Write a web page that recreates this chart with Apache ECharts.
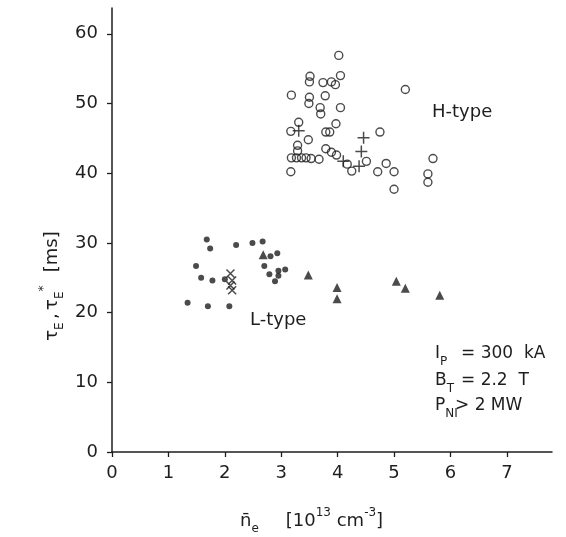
<!DOCTYPE html>
<html>
<head>
<meta charset="utf-8">
<script src="https://cdn.jsdelivr.net/npm/echarts@6/dist/echarts.min.js"></script>
<style>
html, body { margin: 0; padding: 0; background: #fff; }
#chart { width: 566px; height: 537px; }
</style>
</head>
<body>
<div id="chart"></div>
<script>
// H-type shots: open circles and "+" marks  [n_e, tau]
const hTypeCircles = [
  [4.02, 56.9], [3.51, 53.9], [3.50, 53.1], [3.74, 53.0], [3.89, 53.1], [3.96, 52.7], [4.05, 54.0], [5.20, 52.0],
  [3.18, 51.2], [3.50, 50.9], [3.49, 50.0], [3.78, 51.1], [3.69, 49.4], [3.70, 48.5], [4.05, 49.4],
  [3.31, 47.3], [3.17, 46.0], [3.97, 47.1], [3.79, 45.9], [3.86, 45.9], [3.48, 44.8], [4.75, 45.9],
  [3.29, 44.0], [3.29, 43.2], [3.18, 42.2], [3.27, 42.2], [3.36, 42.2], [3.44, 42.2], [3.53, 42.1], [3.67, 42.0],
  [3.79, 43.5], [3.89, 43.0], [3.98, 42.6], [4.17, 41.3], [4.25, 40.3], [4.51, 41.7], [4.71, 40.2], [4.86, 41.4],
  [5.00, 40.2], [5.00, 37.7], [5.69, 42.1], [5.60, 39.9], [5.60, 38.7], [3.17, 40.2]
];
const hTypePlus = [[3.31, 46.1], [4.46, 45.1], [4.42, 43.1], [4.38, 41.0], [4.10, 41.7]];

// L-type shots: dots, "x" marks, triangles
const lTypeDots = [
  [1.68, 30.5], [1.74, 29.2], [2.20, 29.7], [1.49, 26.7], [1.58, 25.0], [1.78, 24.6], [2.00, 24.8],
  [1.34, 21.4], [1.70, 20.9], [2.08, 20.9], [2.49, 30.0], [2.67, 30.2], [2.81, 28.1], [2.93, 28.5],
  [2.70, 26.7], [2.79, 25.5], [2.95, 26.0], [3.07, 26.2], [2.95, 25.3], [2.89, 24.5]
];
const lTypeCross = [[2.10, 25.6], [2.13, 24.6], [2.10, 23.9], [2.13, 23.2]];
const lTypeTriangles = [[2.68, 28.3], [3.48, 25.4], [3.99, 23.6], [3.99, 22.0], [5.04, 24.5], [5.20, 23.5], [5.81, 22.5]];

// tick positions
const xTicks = [0, 1, 2, 3, 4, 5, 6, 7];
const yTicks = [0, 10, 20, 30, 40, 50, 60];

const ink = '#1e1e1e';
const font = 'DejaVu Sans';

// rich styles for sub/superscripts
const rich = {
  m: { fontSize: 18, fontFamily: font, fill: ink, lineHeight: 28 },
  a: { fontSize: 17, fontFamily: font, fill: ink, lineHeight: 28 },
  s: { fontSize: 12, fontFamily: font, fill: ink, lineHeight: 12, verticalAlign: 'bottom' },
  p: { fontSize: 12, fontFamily: font, fill: ink, lineHeight: 12, verticalAlign: 'top' }
};

function label(x, y, text, opts) {
  return Object.assign({
    type: 'text', x: x, y: y, silent: true,
    style: { text: text, rich: rich, fill: ink, font: '17px ' + font, align: 'left', verticalAlign: 'middle' }
  }, opts || {});
}

const yTitle = '{m|τ}{s|E} {m|,} {m|τ}{s|E}{p|*}    {m|[ms]}';

const chart = echarts.init(document.getElementById('chart'), null, { renderer: 'canvas' });

chart.setOption({
  backgroundColor: '#fff',
  animation: false,
  grid: { left: 112, right: 14, top: 8, bottom: 85 },
  xAxis: {
    type: 'value', min: 0, max: 7.8,
    axisLine: { onZero: false, lineStyle: { color: ink, width: 1.5 } },
    axisTick: { length: 5, customValues: xTicks, lineStyle: { color: ink, width: 1.3 } },
    axisLabel: { margin: 12, color: ink, fontSize: 18, fontFamily: font, customValues: xTicks },
    splitLine: { show: false }
  },
  yAxis: {
    type: 'value', min: 0, max: 63.7,
    axisLine: { show: true, onZero: false, lineStyle: { color: ink, width: 1.5 } },
    axisTick: { show: true, length: 5, customValues: yTicks, lineStyle: { color: ink, width: 1.3 } },
    axisLabel: { margin: 14, color: ink, fontSize: 18, fontFamily: font, customValues: yTicks },
    splitLine: { show: false }
  },
  series: [
    {
      name: 'H circles', type: 'scatter', data: hTypeCircles,
      symbol: 'circle', symbolSize: 8,
      itemStyle: { color: 'rgba(0,0,0,0)', borderColor: ink, borderWidth: 1.4 }
    },
    {
      name: 'H plus', type: 'scatter', data: hTypePlus,
      symbol: 'path://M0,5L10,5M5,0L5,10', symbolSize: 12,
      itemStyle: { color: 'none', borderColor: ink, borderWidth: 1.5 }
    },
    {
      name: 'L dots', type: 'scatter', data: lTypeDots,
      symbol: 'circle', symbolSize: 6,
      itemStyle: { color: ink }
    },
    {
      name: 'L cross', type: 'scatter', data: lTypeCross,
      symbol: 'path://M0,0L10,10M10,0L0,10', symbolSize: 8,
      itemStyle: { color: 'none', borderColor: ink, borderWidth: 1.5 }
    },
    {
      name: 'L triangles', type: 'scatter', data: lTypeTriangles,
      symbol: 'triangle', symbolSize: 9,
      itemStyle: { color: ink }
    }
  ],
  graphic: [
    // y axis title, reads bottom to top
    label(52, 286, yTitle, { rotation: Math.PI / 2, style: { text: yTitle, rich: rich, align: 'center', verticalAlign: 'middle' } }),
    // x axis title
    label(240, 521, '{m|n̄}{s|e}     {m|[10}{p|13}{m| cm}{p|-3}{m|]}'),
    label(432, 112, '{m|H-type}'),
    label(250, 320, '{m|L-type}'),
    label(435, 354, '{a|I}{s|P}'),
    label(461, 354, '{a|= 300  kA}'),
    label(435, 381, '{a|B}{s|T}'),
    label(461, 381, '{a|= 2.2  T}'),
    label(435, 406, '{a|P}{s|NI}'),
    label(455, 406, '{a|> 2 MW}')
  ]
});
</script>
</body>
</html>
